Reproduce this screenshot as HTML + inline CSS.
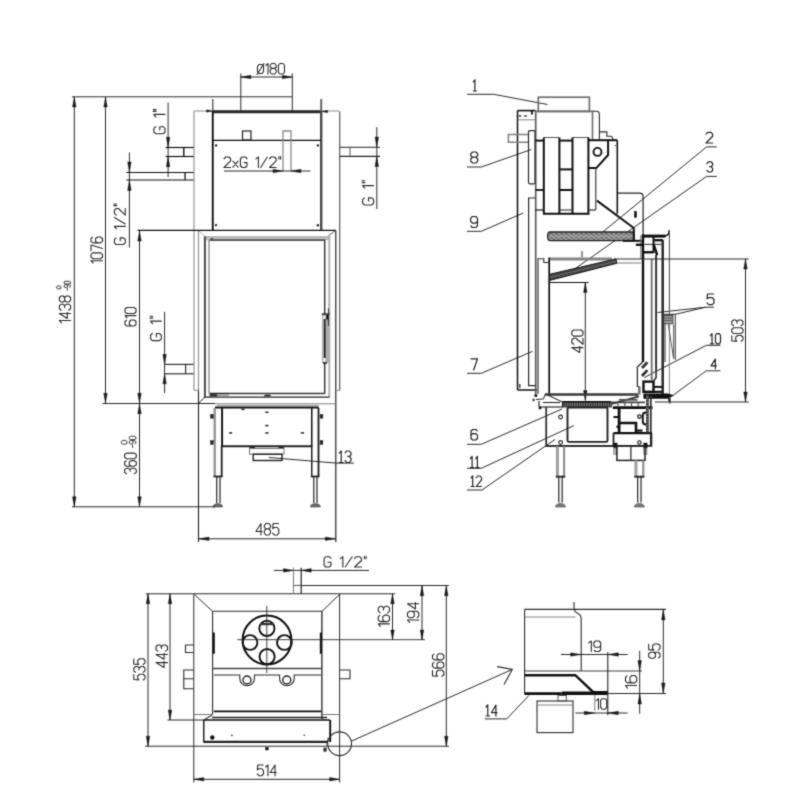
<!DOCTYPE html>
<html><head><meta charset="utf-8"><title>Technical drawing</title>
<style>
html,body{margin:0;padding:0;background:#fff;}
body{width:800px;height:800px;overflow:hidden;font-family:"Liberation Sans",sans-serif;}
svg{display:block}
</style></head><body>
<svg width="800" height="800" viewBox="0 0 800 800" fill="none" stroke-linecap="butt">
<defs><filter id="soft" color-interpolation-filters="sRGB" x="0" y="0" width="800" height="800" filterUnits="userSpaceOnUse"><feConvolveMatrix order="3" kernelMatrix="1 4 1 4 20 4 1 4 1" edgeMode="duplicate" preserveAlpha="true"/></filter></defs>
<rect x="0" y="0" width="800" height="800" fill="#ffffff" stroke="none"/>
<g filter="url(#soft)">
<rect x="-10" y="-10" width="820" height="820" fill="#ffffff" stroke="none"/>
<path d="M72 96.8L292 96.8" stroke="#2a2a2a" stroke-width="1"/>
<path d="M74.3 97L74.3 507" stroke="#2a2a2a" stroke-width="1"/>
<path d="M74.3 97L76.1 107L72.5 107Z" fill="#1a1a1a" stroke="#1a1a1a" stroke-width="0.4"/>
<path d="M74.3 506.8L72.5 496.8L76.1 496.8Z" fill="#1a1a1a" stroke="#1a1a1a" stroke-width="0.4"/>
<path d="M61.45 322.8L59.4 320.53L70.6 320.53M70.6 313.56L59.4 313.56L67.24 318.41L67.24 312.35M61.27 310.23L59.4 308.72L59.4 305.69L61.27 304.18L63.13 304.18L64.63 305.69L64.63 307.51M64.63 305.69L66.49 304.18L68.73 304.18L70.6 305.69L70.6 308.72L68.73 310.23M64.63 300.54L63.13 302.06L61.27 302.06L59.4 300.54L59.4 297.51L61.27 296L63.13 296L64.63 297.51L64.63 300.54L66.49 302.06L68.73 302.06L70.6 300.54L70.6 297.51L68.73 296L66.49 296L64.63 297.51" stroke="#2a2a2a" stroke-width="1.1" fill="none" stroke-linejoin="round" stroke-linecap="round"/>
<path d="M60.9 288.1L60.18 288.8L57.32 288.8L56.6 288.1L56.6 286.7L57.32 286L60.18 286L60.9 286.7L60.9 288.1" stroke="#2a2a2a" stroke-width="0.9" fill="none" stroke-linejoin="round" stroke-linecap="round"/>
<path d="M67.3 290.3L67.3 288.34M69.72 287.3L70.6 286.78L70.6 285.47L69.5 284.82L65.1 284.82L64 285.47L64 286.78L65.1 287.43L66.86 287.43L67.96 286.78L67.96 285.47L66.86 284.82M70.6 283.26L69.5 283.91L65.1 283.91L64 283.26L64 281.95L65.1 281.3L69.5 281.3L70.6 281.95L70.6 283.26" stroke="#2a2a2a" stroke-width="0.9" fill="none" stroke-linejoin="round" stroke-linecap="round"/>
<path d="M105.5 97L105.5 403.5" stroke="#2a2a2a" stroke-width="1"/>
<path d="M105.5 97L107.3 107L103.7 107Z" fill="#1a1a1a" stroke="#1a1a1a" stroke-width="0.4"/>
<path d="M105.5 403.3L103.7 393.3L107.3 393.3Z" fill="#1a1a1a" stroke="#1a1a1a" stroke-width="0.4"/>
<path d="M93.11 263L91 260.8L102.5 260.8M102.5 257.27L100.58 258.74L92.92 258.74L91 257.27L91 254.33L92.92 252.86L100.58 252.86L102.5 254.33L102.5 257.27M91 250.81L91 244.93L102.5 248.46M92.53 237.29L91 238.47L91 241.41L92.92 242.88L100.58 242.88L102.5 241.41L102.5 238.47L100.58 237L97.52 237L95.6 238.47L95.6 241.41L97.52 242.88" stroke="#2a2a2a" stroke-width="1.1" fill="none" stroke-linejoin="round" stroke-linecap="round"/>
<path d="M240.8 73.5L240.8 111" stroke="#2a2a2a" stroke-width="1"/>
<path d="M292.3 73.5L292.3 111" stroke="#2a2a2a" stroke-width="1"/>
<path d="M240.8 77L292.3 77" stroke="#2a2a2a" stroke-width="1"/>
<path d="M240.8 77L250.8 75.2L250.8 78.8Z" fill="#1a1a1a" stroke="#1a1a1a" stroke-width="0.4"/>
<path d="M292.3 77L282.3 78.8L282.3 75.2Z" fill="#1a1a1a" stroke="#1a1a1a" stroke-width="0.4"/>
<path d="M258.99 73.47L257.46 71.72L257.46 66.3L258.99 64.55L262.04 64.55L263.57 66.3L263.57 71.72L262.04 73.47L258.99 73.47M257 74.53L264.03 63.5M265.71 65.42L268 63.5L268 74M271.67 68.4L270.14 67L270.14 65.25L271.67 63.5L274.72 63.5L276.25 65.25L276.25 67L274.72 68.4L271.67 68.4L270.14 70.15L270.14 72.25L271.67 74L274.72 74L276.25 72.25L276.25 70.15L274.72 68.4M279.92 74L278.39 72.25L278.39 65.25L279.92 63.5L282.97 63.5L284.5 65.25L284.5 72.25L282.97 74L279.92 74" stroke="#2a2a2a" stroke-width="1.1" fill="none" stroke-linejoin="round" stroke-linecap="round"/>
<path d="M168.1 102.5L168.1 177" stroke="#2a2a2a" stroke-width="1"/>
<path d="M168.1 147.2L166.3 137.2L169.9 137.2Z" fill="#1a1a1a" stroke="#1a1a1a" stroke-width="0.4"/>
<path d="M168.1 156.7L169.9 166.7L166.3 166.7Z" fill="#1a1a1a" stroke="#1a1a1a" stroke-width="0.4"/>
<path d="M155.67 126.68L153.8 128.46L153.8 132.02L155.67 133.8L163.13 133.8L165 132.02L165 128.46L163.13 126.68L159.77 126.68L159.77 129.89M155.85 117.07L153.8 114.4L165 114.4M153.24 111.38L156.04 111.38M153.24 109.6L156.04 109.6" stroke="#2a2a2a" stroke-width="1.1" fill="none" stroke-linejoin="round" stroke-linecap="round"/>
<path d="M165.6 147.5L194 147.5" stroke="#111" stroke-width="1.2"/>
<path d="M165.6 156.5L194 156.5" stroke="#111" stroke-width="1.2"/>
<path d="M183.8 147.5L183.8 156.5" stroke="#111" stroke-width="1.4"/>
<path d="M129.4 152.5L129.4 247.5" stroke="#2a2a2a" stroke-width="1"/>
<path d="M129.4 172.5L127.6 162L131.2 162Z" fill="#1a1a1a" stroke="#1a1a1a" stroke-width="0.4"/>
<path d="M129.4 180L131.2 190.5L127.6 190.5Z" fill="#1a1a1a" stroke="#1a1a1a" stroke-width="0.4"/>
<path d="M116.22 237.86L114.4 239.52L114.4 242.84L116.22 244.5L123.48 244.5L125.3 242.84L125.3 239.52L123.48 237.86L120.21 237.86L120.21 240.85M116.4 228.9L114.4 226.41L125.3 226.41M125.3 224.08L114.4 217.44M116.22 215.12L114.4 213.46L114.4 210.14L116.22 208.48L118.4 208.48L125.3 215.12L125.3 208.48M113.86 205.66L116.58 205.66M113.86 204L116.58 204" stroke="#2a2a2a" stroke-width="1.1" fill="none" stroke-linejoin="round" stroke-linecap="round"/>
<path d="M126.3 172.5L194 172.5" stroke="#111" stroke-width="1.2"/>
<path d="M126.3 180L194 180" stroke="#111" stroke-width="1.2"/>
<path d="M185 172.5L185 180" stroke="#111" stroke-width="1.3"/>
<path d="M376.8 127.2L376.8 209" stroke="#2a2a2a" stroke-width="1"/>
<path d="M376.8 147.1L375 137.1L378.6 137.1Z" fill="#1a1a1a" stroke="#1a1a1a" stroke-width="0.4"/>
<path d="M376.8 156.5L378.6 166.5L375 166.5Z" fill="#1a1a1a" stroke="#1a1a1a" stroke-width="0.4"/>
<path d="M339.5 147.2L380 147.2" stroke="#222" stroke-width="1.1" fill="none"/>
<path d="M339.5 156.4L380 156.4" stroke="#222" stroke-width="1.1"/>
<path d="M350 147.2L350 156.4" stroke="#555" stroke-width="1"/>
<path d="M364.43 197.88L362.6 199.66L362.6 203.22L364.43 205L371.77 205L373.6 203.22L373.6 199.66L371.77 197.88L368.47 197.88L368.47 201.09M364.62 188.27L362.6 185.6L373.6 185.6M362.05 182.58L364.8 182.58M362.05 180.8L364.8 180.8" stroke="#2a2a2a" stroke-width="1.1" fill="none" stroke-linejoin="round" stroke-linecap="round"/>
<path d="M164.6 311.9L164.6 393" stroke="#2a2a2a" stroke-width="1"/>
<path d="M164.6 364.4L162.8 354.4L166.4 354.4Z" fill="#1a1a1a" stroke="#1a1a1a" stroke-width="0.4"/>
<path d="M164.6 373.8L166.4 383.8L162.8 383.8Z" fill="#1a1a1a" stroke="#1a1a1a" stroke-width="0.4"/>
<path d="M152.38 333.45L150.6 335.24L150.6 338.81L152.38 340.6L159.52 340.6L161.3 338.81L161.3 335.24L159.52 333.45L156.31 333.45L156.31 336.67M152.56 323.8L150.6 321.12L161.3 321.12M150.06 318.09L152.74 318.09M150.06 316.3L152.74 316.3" stroke="#2a2a2a" stroke-width="1.1" fill="none" stroke-linejoin="round" stroke-linecap="round"/>
<path d="M164.6 364.4L194 364.4" stroke="#333" stroke-width="1.2"/>
<path d="M164.6 373.8L194 373.8" stroke="#333" stroke-width="1.2"/>
<path d="M185.6 364.4L185.6 373.8" stroke="#333" stroke-width="1.2"/>
<path d="M194 111L339.5 111" stroke="#8a8a8a" stroke-width="1"/>
<path d="M194 111L194 390.3" stroke="#8a8a8a" stroke-width="1.1"/>
<path d="M339.7 111.5L339.7 390.4" stroke="#5a5a5a" stroke-width="1.2"/>
<path d="M212.5 111.7L321.6 111.7" stroke="#2a2a2a" stroke-width="3"/>
<path d="M212.75 99L212.75 111" stroke="#666" stroke-width="1.5"/>
<path d="M321.2 99L321.2 111" stroke="#666" stroke-width="2"/>
<path d="M212.75 111L212.75 231" stroke="#111" stroke-width="1.9"/>
<path d="M321.2 111L321.2 231" stroke="#4a4a4a" stroke-width="2.4"/>
<path d="M212.5 111L206.5 112.2L206.5 109.8Z" fill="#1a1a1a" stroke="#1a1a1a" stroke-width="0.4"/>
<path d="M321.6 111.5L327.6 110.3L327.6 112.7Z" fill="#1a1a1a" stroke="#1a1a1a" stroke-width="0.4"/>
<path d="M212.5 140.3L321 140.3" stroke="#111" stroke-width="1.2"/>
<rect x="242.5" y="131" width="8.5" height="9" rx="0" stroke="#222" stroke-width="1.2" fill="none"/>
<path d="M283 171L283 131L291 131L291 171" stroke="#8a8a8a" stroke-width="1.3" fill="none"/>
<circle cx="216.1" cy="145.4" r="1.2" fill="#222" stroke="none"/>
<circle cx="317.9" cy="145.4" r="1.2" fill="#222" stroke="none"/>
<circle cx="216" cy="225.1" r="1.2" fill="#222" stroke="none"/>
<circle cx="317.9" cy="225.2" r="1.2" fill="#222" stroke="none"/>
<path d="M224 158.75L225.65 157L228.94 157L230.58 158.75L230.58 160.85L224 167.5L230.58 167.5M232.88 167.15L238.15 161.2M232.88 161.2L238.15 167.15M247.03 158.75L245.39 157L242.1 157L240.45 158.75L240.45 165.75L242.1 167.5L245.39 167.5L247.03 165.75L247.03 162.6L244.07 162.6M255.92 158.93L258.39 157L258.39 167.5M260.69 167.5L267.27 157M269.58 158.75L271.22 157L274.51 157L276.16 158.75L276.16 160.85L269.58 167.5L276.16 167.5M278.95 156.47L278.95 159.1M280.6 156.47L280.6 159.1" stroke="#2a2a2a" stroke-width="1.1" fill="none" stroke-linejoin="round" stroke-linecap="round"/>
<path d="M224 171L310.5 171" stroke="#2a2a2a" stroke-width="1"/>
<path d="M283 171L273 172.8L273 169.2Z" fill="#1a1a1a" stroke="#1a1a1a" stroke-width="0.4"/>
<path d="M291 171L301 169.2L301 172.8Z" fill="#1a1a1a" stroke="#1a1a1a" stroke-width="0.4"/>
<path d="M137.5 230.4L335.8 230.4" stroke="#111" stroke-width="1.3"/>
<path d="M139.5 231L139.5 506.8" stroke="#2a2a2a" stroke-width="1"/>
<path d="M139.5 231L141.3 241L137.7 241Z" fill="#1a1a1a" stroke="#1a1a1a" stroke-width="0.4"/>
<path d="M139.5 403.3L137.7 393.3L141.3 393.3Z" fill="#1a1a1a" stroke="#1a1a1a" stroke-width="0.4"/>
<path d="M139.5 403.7L141.3 413.7L137.7 413.7Z" fill="#1a1a1a" stroke="#1a1a1a" stroke-width="0.4"/>
<path d="M139.5 506.8L137.7 496.8L141.3 496.8Z" fill="#1a1a1a" stroke="#1a1a1a" stroke-width="0.4"/>
<path d="M126.47 320.28L125 321.49L125 324.5L126.83 326L134.17 326L136 324.5L136 321.49L134.17 319.98L131.23 319.98L129.4 321.49L129.4 324.5L131.23 326M127.02 317.88L125 315.62L136 315.62M136 312.01L134.17 313.52L126.83 313.52L125 312.01L125 309L126.83 307.5L134.17 307.5L136 309L136 312.01" stroke="#2a2a2a" stroke-width="1.1" fill="none" stroke-linejoin="round" stroke-linecap="round"/>
<path d="M126.55 473.8L124.6 472.4L124.6 469.6L126.55 468.21L128.5 468.21L130.06 469.6L130.06 471.28M130.06 469.6L132.01 468.21L134.35 468.21L136.3 469.6L136.3 472.4L134.35 473.8M126.16 460.93L124.6 462.05L124.6 464.85L126.55 466.25L134.35 466.25L136.3 464.85L136.3 462.05L134.35 460.65L131.23 460.65L129.28 462.05L129.28 464.85L131.23 466.25M136.3 457.3L134.35 458.69L126.55 458.69L124.6 457.3L124.6 454.5L126.55 453.1L134.35 453.1L136.3 454.5L136.3 457.3" stroke="#2a2a2a" stroke-width="1.1" fill="none" stroke-linejoin="round" stroke-linecap="round"/>
<path d="M126.9 443.18L125.98 444.1L122.32 444.1L121.4 443.18L121.4 441.32L122.32 440.4L125.98 440.4L126.9 441.32L126.9 443.18" stroke="#2a2a2a" stroke-width="0.9" fill="none" stroke-linejoin="round" stroke-linecap="round"/>
<path d="M132.55 447.5L132.55 445.07M135.01 443.77L135.9 443.12L135.9 441.49L134.78 440.68L130.32 440.68L129.2 441.49L129.2 443.12L130.32 443.93L132.1 443.93L133.22 443.12L133.22 441.49L132.1 440.68M135.9 438.73L134.78 439.55L130.32 439.55L129.2 438.73L129.2 437.11L130.32 436.3L134.78 436.3L135.9 437.11L135.9 438.73" stroke="#2a2a2a" stroke-width="0.9" fill="none" stroke-linejoin="round" stroke-linecap="round"/>
<path d="M198.5 231L198.5 390" stroke="#8a8a8a" stroke-width="1.1"/>
<path d="M335.8 230.4L335.8 542" stroke="#222" stroke-width="1.2"/>
<rect x="204.9" y="236" width="125.4" height="4.2" rx="0" stroke="none" stroke-width="0" fill="#b9b9b9"/>
<rect x="328.2" y="236" width="2.2" height="160.8" rx="0" stroke="none" stroke-width="0" fill="#b9b9b9"/>
<path d="M204.9 236.2L204.9 397" stroke="#4a4a4a" stroke-width="2"/>
<path d="M209 240L209 393.4" stroke="#a8a8a8" stroke-width="1.8"/>
<path d="M209.5 240.2L324.7 240.2L324.7 393.4L209.5 393.4" stroke="#222" stroke-width="1.3" fill="none"/>
<path d="M204 397.1L329.6 397.1" stroke="#222" stroke-width="1.3"/>
<path d="M328.3 236L335.4 230.6" stroke="#444" stroke-width="0.9"/>
<path d="M204.9 236.5L199 231" stroke="#999" stroke-width="0.8"/>
<path d="M211.2 238.8L213 238.8" stroke="#333" stroke-width="1.6"/>
<rect x="321.9" y="314" width="7.8" height="49" rx="0" stroke="none" stroke-width="0" fill="#adadad"/>
<path d="M321.9 314L329.7 314" stroke="#111" stroke-width="1.2"/>
<path d="M323 363L327 363" stroke="#111" stroke-width="1.4"/>
<path d="M324.75 316L324.75 362" stroke="#111" stroke-width="1.4"/>
<rect x="323.4" y="316" width="2.2" height="3" rx="0" stroke="none" stroke-width="0" fill="#fff"/>
<rect x="323.4" y="358" width="2.2" height="4" rx="0" stroke="none" stroke-width="0" fill="#fff"/>
<rect x="326.3" y="315" width="2.3" height="4.6" rx="0" stroke="none" stroke-width="0" fill="#111"/>
<path d="M328.4 308.3L328.4 325.8" stroke="#333" stroke-width="1"/>
<path d="M194 390.3L198.5 390.3" stroke="#8a8a8a" stroke-width="1" fill="none"/>
<path d="M339.5 390.4L335.8 390.4" stroke="#8a8a8a" stroke-width="1" fill="none"/>
<path d="M205 397L198.5 403.2" stroke="#2a2a2a" stroke-width="1"/>
<path d="M102.5 403.5L215 403.5" stroke="#2a2a2a" stroke-width="1"/>
<path d="M215 403.8L335.8 403.8" stroke="#808080" stroke-width="1"/>
<path d="M209.5 395.3L217.5 395.3" stroke="#222" stroke-width="2.2"/>
<path d="M217.5 395.3L229 395.3" stroke="#999" stroke-width="2"/>
<path d="M264.4 395.3L270.6 395.3" stroke="#222" stroke-width="2.2"/>
<path d="M229 394.3L324 394.3" stroke="#bbb" stroke-width="0.9"/>
<path d="M217 405.4L318.5 405.4" stroke="#9a9a9a" stroke-width="1"/>
<path d="M215 407.4L318.8 407.4" stroke="#111" stroke-width="2"/>
<path d="M222.1 407.4L222.1 446.2" stroke="#111" stroke-width="1.9"/>
<path d="M311.75 407.4L311.75 446.2" stroke="#111" stroke-width="1.5"/>
<path d="M221.2 446.2L312.4 446.2" stroke="#222" stroke-width="2"/>
<path d="M214.7 408L214.7 476.5" stroke="#8c8c8c" stroke-width="2.2"/>
<path d="M221.7 446L221.7 476.5" stroke="#222" stroke-width="1.8"/>
<path d="M213.6 476.5L222.6 476.5" stroke="#222" stroke-width="1.8"/>
<path d="M216.7 477L216.7 503" stroke="#333" stroke-width="1.3"/>
<path d="M220 477L220 503" stroke="#333" stroke-width="1.3"/>
<path d="M213 507L213.6 505Q217.8 501.8 222 505L222.6 507Z" stroke="#444" stroke-width="0.6" fill="#6a6a6a"/>
<path d="M311.75 446L311.75 476.5" stroke="#222" stroke-width="1.5"/>
<path d="M318.5 408L318.5 476.5" stroke="#222" stroke-width="1.9"/>
<path d="M310.8 476.5L319.4 476.5" stroke="#222" stroke-width="1.8"/>
<path d="M313.8 477L313.8 503" stroke="#333" stroke-width="1.3"/>
<path d="M317 477L317 503" stroke="#333" stroke-width="1.3"/>
<path d="M310.4 507L311 505Q315.4 501.8 319.8 505L320.4 507Z" stroke="#444" stroke-width="0.6" fill="#6a6a6a"/>
<rect x="210.5" y="414.3" width="2.8" height="4" rx="0" stroke="#222" stroke-width="0.4" fill="#222"/>
<rect x="210.5" y="440.5" width="2.8" height="4" rx="0" stroke="#222" stroke-width="0.4" fill="#222"/>
<rect x="320.1" y="414.3" width="2.8" height="4" rx="0" stroke="#222" stroke-width="0.4" fill="#222"/>
<rect x="320.1" y="440.5" width="2.8" height="4" rx="0" stroke="#222" stroke-width="0.4" fill="#222"/>
<path d="M265.3 412.3L268.5 412.3" stroke="#222" stroke-width="1.5"/>
<path d="M265.3 425.6L268.5 425.6" stroke="#222" stroke-width="1.5"/>
<path d="M265.3 432.9L268.5 432.9" stroke="#222" stroke-width="1.5"/>
<path d="M229 432.9L232.2 432.9" stroke="#222" stroke-width="1.5"/>
<path d="M300.9 432.9L304.1 432.9" stroke="#222" stroke-width="1.5"/>
<path d="M241.4 409.3L244.6 409.3" stroke="#222" stroke-width="1.5"/>
<path d="M249.5 447.7L255 447.7" stroke="#222" stroke-width="1.8"/>
<path d="M278.5 447.7L284 447.7" stroke="#222" stroke-width="1.8"/>
<rect x="249.5" y="448.5" width="34.5" height="5.7" rx="0" stroke="#777" stroke-width="1" fill="none"/>
<rect x="253.2" y="454.2" width="28.8" height="6.3" rx="0" stroke="#222" stroke-width="1.4" fill="none"/>
<path d="M268.8 457.5L336 463.1L354 463.1" stroke="#2a2a2a" stroke-width="1" fill="none"/>
<path d="M339.3 453.11L341.2 451L341.2 462.5M339.3 462.5L343.1 462.5M345.15 452.92L346.61 451L349.54 451L351 452.92L351 454.83L349.54 456.37L347.78 456.37M349.54 456.37L351 458.28L351 460.58L349.54 462.5L346.61 462.5L345.15 460.58" stroke="#222" stroke-width="1.2" fill="none" stroke-linejoin="round" stroke-linecap="round"/>
<path d="M72 506.8L215 506.8" stroke="#2a2a2a" stroke-width="1"/>
<path d="M198.5 390.3L198.5 542" stroke="#222" stroke-width="1.1"/>
<path d="M198.5 538.8L335.8 538.8" stroke="#2a2a2a" stroke-width="1"/>
<path d="M198.5 538.8L209 537L209 540.6Z" fill="#1a1a1a" stroke="#1a1a1a" stroke-width="0.4"/>
<path d="M335.8 538.8L325.3 540.6L325.3 537Z" fill="#1a1a1a" stroke="#1a1a1a" stroke-width="0.4"/>
<path d="M260.93 535L260.93 523.5L256 531.55L262.16 531.55M265.86 528.87L264.32 527.33L264.32 525.42L265.86 523.5L268.94 523.5L270.48 525.42L270.48 527.33L268.94 528.87L265.86 528.87L264.32 530.78L264.32 533.08L265.86 535L268.94 535L270.48 533.08L270.48 530.78L268.94 528.87M278.49 523.5L273.1 523.5L272.64 528.67L274.18 527.52L277.26 527.52L278.8 529.44L278.8 533.08L277.26 535L274.18 535L272.64 533.08" stroke="#2a2a2a" stroke-width="1.1" fill="none" stroke-linejoin="round" stroke-linecap="round"/>
<path d="M473.3 81.85L474.9 79.8L474.9 91M473.3 91L476.5 91" stroke="#222" stroke-width="1.2" fill="none" stroke-linejoin="round" stroke-linecap="round"/>
<path d="M467 94.3L493.8 94.3L547.5 104.5" stroke="#2a2a2a" stroke-width="1" fill="none"/>
<path d="M472.52 157.13L470.8 155.67L470.8 153.83L472.52 152L475.98 152L477.7 153.83L477.7 155.67L475.98 157.13L472.52 157.13L470.8 158.97L470.8 161.17L472.52 163L475.98 163L477.7 161.17L477.7 158.97L475.98 157.13" stroke="#222" stroke-width="1.2" fill="none" stroke-linejoin="round" stroke-linecap="round"/>
<path d="M467 167L481.3 167L531.3 149.5" stroke="#2a2a2a" stroke-width="1" fill="none"/>
<path d="M470.95 226.03L472.33 227.5L475.77 227.5L477.5 225.67L477.5 218.33L475.77 216.5L472.33 216.5L470.6 218.33L470.6 221.27L472.33 223.1L475.77 223.1L477.5 221.27" stroke="#222" stroke-width="1.2" fill="none" stroke-linejoin="round" stroke-linecap="round"/>
<path d="M467 231.3L481.3 231.3L523.3 213" stroke="#2a2a2a" stroke-width="1" fill="none"/>
<path d="M471 358.8L477.5 358.8L473.6 370" stroke="#222" stroke-width="1.2" fill="none" stroke-linejoin="round" stroke-linecap="round"/>
<path d="M467 373.3L481.3 373.3L532.5 351.3" stroke="#2a2a2a" stroke-width="1" fill="none"/>
<path d="M477.18 430.9L475.88 429.5L472.62 429.5L471 431.25L471 438.25L472.62 440L475.88 440L477.5 438.25L477.5 435.45L475.88 433.7L472.62 433.7L471 435.45" stroke="#222" stroke-width="1.2" fill="none" stroke-linejoin="round" stroke-linecap="round"/>
<path d="M467 444.3L481.3 444.3L562 409" stroke="#2a2a2a" stroke-width="1" fill="none"/>
<path d="M470.5 458.52L472.12 456.5L472.12 467.5M470.5 467.5L473.75 467.5M475.75 458.52L477.38 456.5L477.38 467.5M475.75 467.5L479 467.5" stroke="#222" stroke-width="1.2" fill="none" stroke-linejoin="round" stroke-linecap="round"/>
<path d="M467 468.3L481.3 468.3L573.8 425.6" stroke="#2a2a2a" stroke-width="1" fill="none"/>
<path d="M471 477.93L472.71 476L472.71 486.5M471 486.5L474.41 486.5M476.25 477.75L477.56 476L480.19 476L481.5 477.75L481.5 479.85L476.25 486.5L481.5 486.5" stroke="#222" stroke-width="1.2" fill="none" stroke-linejoin="round" stroke-linecap="round"/>
<path d="M467 490L482 490L555 439.4" stroke="#2a2a2a" stroke-width="1" fill="none"/>
<path d="M706 134.08L707.65 132.3L710.95 132.3L712.6 134.08L712.6 136.22L706 143L712.6 143" stroke="#222" stroke-width="1.2" fill="none" stroke-linejoin="round" stroke-linecap="round"/>
<path d="M706.6 146.9L716.8 146.9" stroke="#2a2a2a" stroke-width="1"/>
<path d="M706.6 146.9L601.5 233" stroke="#2a2a2a" stroke-width="1"/>
<path d="M707 163.5L708.4 161.8L711.2 161.8L712.6 163.5L712.6 165.2L711.2 166.56L709.52 166.56M711.2 166.56L712.6 168.26L712.6 170.3L711.2 172L708.4 172L707 170.3" stroke="#222" stroke-width="1.2" fill="none" stroke-linejoin="round" stroke-linecap="round"/>
<path d="M706.6 176.4L716.8 176.4" stroke="#2a2a2a" stroke-width="1"/>
<path d="M706.6 176.4L575 268.7" stroke="#2a2a2a" stroke-width="1"/>
<path d="M713.65 294L707.52 294L707 298.77L708.75 297.71L712.25 297.71L714 299.48L714 302.83L712.25 304.6L708.75 304.6L707 302.83" stroke="#222" stroke-width="1.2" fill="none" stroke-linejoin="round" stroke-linecap="round"/>
<path d="M705.6 307.2L714 307.2" stroke="#2a2a2a" stroke-width="1"/>
<path d="M705.6 307.2L657.5 312.5" stroke="#2a2a2a" stroke-width="1"/>
<path d="M705.6 307.2L675 314.4" stroke="#2a2a2a" stroke-width="1"/>
<path d="M710.4 335.55L712.04 333.7L712.04 343.8M710.4 343.8L713.68 343.8M716.71 343.8L715.45 342.12L715.45 335.38L716.71 333.7L719.24 333.7L720.5 335.38L720.5 342.12L719.24 343.8L716.71 343.8" stroke="#222" stroke-width="1.2" fill="none" stroke-linejoin="round" stroke-linecap="round"/>
<path d="M706.3 345.3L720.5 345.3" stroke="#2a2a2a" stroke-width="1"/>
<path d="M706.3 345.3L644.4 377.5" stroke="#2a2a2a" stroke-width="1"/>
<path d="M715.32 368.7L715.32 359.2L711 365.85L716.4 365.85" stroke="#222" stroke-width="1.2" fill="none" stroke-linejoin="round" stroke-linecap="round"/>
<path d="M706.3 370.8L720.5 370.8" stroke="#2a2a2a" stroke-width="1"/>
<path d="M706.3 370.8L673.5 395" stroke="#2a2a2a" stroke-width="1"/>
<rect x="538.3" y="97.2" width="51.1" height="14.2" rx="0" stroke="#6e6e6e" stroke-width="1.7" fill="none"/>
<path d="M535.6 111.4L592.5 111.4L592.5 139.4" stroke="#6e6e6e" stroke-width="1.6" fill="none"/>
<path d="M592.5 111.25L596.5 111.25Q599.4 111.25 599.4 114.4L599.4 139.4" stroke="#2a2a2a" stroke-width="1.1" fill="none"/>
<path d="M599.4 131.9L606.9 131.9L606.9 136.25L611 136.25" stroke="#2a2a2a" stroke-width="1.1" fill="none"/>
<path d="M611 136.25Q612.8 136.6 613 139.4" stroke="#2a2a2a" stroke-width="1.1" fill="none"/>
<path d="M517.5 110.6L517.5 390" stroke="#111" stroke-width="1.5"/>
<path d="M517.5 110.6L535.6 110.6" stroke="#111" stroke-width="1.6"/>
<path d="M517.5 119.8L535.6 119.8" stroke="#666" stroke-width="0.8"/>
<path d="M518.8 116L521 116" stroke="#111" stroke-width="1.4"/>
<path d="M524.3 116L526.6 116" stroke="#111" stroke-width="1.4"/>
<path d="M531.9 110.8L531.9 114.6" stroke="#111" stroke-width="1.8"/>
<path d="M517.5 390L537 390" stroke="#111" stroke-width="1.5"/>
<path d="M519.8 384L519.8 388" stroke="#111" stroke-width="1.2"/>
<path d="M535.7 111.25L535.7 394" stroke="#5a5a5a" stroke-width="1.7"/>
<path d="M528.5 134.4L508.4 134.4L508.4 142.25L528.5 142.25" stroke="#808080" stroke-width="1.5" fill="none"/>
<rect x="528.5" y="130.6" width="6.5" height="53.2" rx="1.2" stroke="#2a2a2a" stroke-width="1.2" fill="none"/>
<path d="M535.6 198L528.6 198L528.6 385.6L535.6 385.6" stroke="#2a2a2a" stroke-width="1.2" fill="none"/>
<path d="M535.6 140.6L543.8 140.6" stroke="#111" stroke-width="2"/>
<path d="M535.6 190L543.8 190" stroke="#111" stroke-width="1.8"/>
<path d="M535.6 210L543.8 210" stroke="#111" stroke-width="1.2"/>
<path d="M543.8 137.5L559.4 137.5" stroke="#555" stroke-width="1"/>
<path d="M572.5 137.5L588.8 137.5" stroke="#555" stroke-width="1"/>
<path d="M543.8 137.5L543.8 213.8" stroke="#111" stroke-width="2"/>
<path d="M559.4 137.5L559.4 213.8" stroke="#111" stroke-width="2"/>
<path d="M572.5 137.5L572.5 213.8" stroke="#111" stroke-width="2"/>
<path d="M588.4 137.5L588.4 213.8" stroke="#111" stroke-width="2"/>
<path d="M543 213.8L589.4 213.8" stroke="#111" stroke-width="2"/>
<path d="M559.4 140.6L572.5 140.6" stroke="#111" stroke-width="2"/>
<path d="M559.4 169.4L572.5 169.4" stroke="#111" stroke-width="2"/>
<path d="M559.4 190L572.5 190" stroke="#111" stroke-width="2"/>
<path d="M559.4 210L572.5 210" stroke="#444" stroke-width="1.2"/>
<path d="M588.4 140.2L617.3 140.2" stroke="#111" stroke-width="2"/>
<path d="M608.1 140.2L608.1 155L596.3 168.1L588.4 168.1" stroke="#111" stroke-width="2" fill="none"/>
<circle cx="597.5" cy="151.9" r="4" stroke="#111" stroke-width="1.9" fill="none"/>
<path d="M595.8 168.1L595.8 210" stroke="#2a2a2a" stroke-width="1.1"/>
<path d="M588.4 210L595.8 210" stroke="#2a2a2a" stroke-width="1.2"/>
<path d="M617.3 140.2L617.3 213.8" stroke="#111" stroke-width="1.6"/>
<circle cx="615.4" cy="145.6" r="0.7" fill="#2a2a2a" stroke="none"/>
<path d="M596.9 200.6L633.8 228" stroke="#111" stroke-width="2"/>
<path d="M617.3 193.1L639.6 193.1Q643.1 193.1 643.1 196.6L643.1 235" stroke="#222" stroke-width="1.2" fill="none"/>
<rect x="634.4" y="211.3" width="2.1" height="6.2" rx="0" stroke="#111" stroke-width="0.5" fill="#111"/>
<defs><pattern id="hx" width="5" height="4.3" patternUnits="userSpaceOnUse"><rect width="5" height="4.3" fill="#adadad"/><path d="M0 2.1Q1.25 0.3 2.5 2.1T5 2.1" stroke="#555" stroke-width="0.9" fill="none"/><path d="M0 4.3Q1.25 2.6 2.5 4.3T5 4.3M0 0Q1.25 -1.7 2.5 0T5 0" stroke="#777" stroke-width="0.7" fill="none"/></pattern></defs>
<path d="M550 232L633.8 232L633.8 240.6L550 240.6Q547.6 240.6 547.6 236.3Q547.6 232 550 232Z" stroke="#222" stroke-width="1.3" fill="url(#hx)"/>
<path d="M633.8 228L633.8 240.6" stroke="#111" stroke-width="2"/>
<path d="M623 240.8L642 240.8" stroke="#111" stroke-width="2"/>
<path d="M549.5 259L612 259" stroke="#858585" stroke-width="3"/>
<path d="M616.5 263L641 263" stroke="#b5b5b5" stroke-width="1.8"/>
<path d="M538 394L538 258.8L543.8 258.8L543.8 262.5L548.8 262.5" stroke="#2a2a2a" stroke-width="1.1" fill="none"/>
<path d="M549.2 257.5L549.2 394.4" stroke="#111" stroke-width="1.7"/>
<path d="M582 251L582 257.5" stroke="#999" stroke-width="2.2"/>
<path d="M549.6 274.3L616 258.9L616.8 263.3L549.6 280.4Z" stroke="#1a1a1a" stroke-width="1" fill="#444"/>
<path d="M550 277.4L616.3 261.2" stroke="#777" stroke-width="0.8"/>
<path d="M549 282.5L588.6 282.5" stroke="#111" stroke-width="1.2"/>
<path d="M585.3 282.5L585.3 400.5" stroke="#2a2a2a" stroke-width="1"/>
<path d="M585.3 282.5L587.1 292.5L583.5 292.5Z" fill="#1a1a1a" stroke="#1a1a1a" stroke-width="0.4"/>
<path d="M585.3 400.5L583.5 390.5L587.1 390.5Z" fill="#1a1a1a" stroke="#1a1a1a" stroke-width="0.4"/>
<path d="M583 347.64L571.8 347.64L579.64 352.5L579.64 346.42M573.67 344.29L571.8 342.77L571.8 339.73L573.67 338.21L575.91 338.21L583 344.29L583 338.21M583 334.56L581.13 336.08L573.67 336.08L571.8 334.56L571.8 331.52L573.67 330L581.13 330L583 331.52L583 334.56" stroke="#2a2a2a" stroke-width="1.1" fill="none" stroke-linejoin="round" stroke-linecap="round"/>
<path d="M642.6 236.1L665.5 236.1" stroke="#111" stroke-width="3"/>
<path d="M665 236.1Q669.3 235.4 669.3 230" stroke="#111" stroke-width="1.5" fill="none"/>
<path d="M643 234.6L643 362" stroke="#111" stroke-width="2.4"/>
<path d="M640.9 235L640.9 259" stroke="#777" stroke-width="1.3"/>
<path d="M653.5 236L653.5 253" stroke="#111" stroke-width="2"/>
<path d="M651.7 259L651.7 380" stroke="#777" stroke-width="2"/>
<path d="M656.1 255L656.1 371" stroke="#333" stroke-width="2"/>
<path d="M662.7 240.25L662.7 393.8" stroke="#2a2a2a" stroke-width="2.5"/>
<path d="M654.25 240.25L662.9 240.25" stroke="#111" stroke-width="2.4"/>
<path d="M643 252.25L653.5 252.25" stroke="#111" stroke-width="2.4"/>
<path d="M644.5 244.4L662.5 244.4" stroke="#555" stroke-width="1.3"/>
<path d="M635.9 244.75L643 244.75" stroke="#111" stroke-width="2.4"/>
<path d="M653.5 244L657.25 255.25" stroke="#111" stroke-width="2.4"/>
<path d="M669.4 230L669.4 314" stroke="#555" stroke-width="1.1"/>
<path d="M669.4 314L669.4 395" stroke="#888" stroke-width="1"/>
<path d="M614 259L748.8 259" stroke="#2a2a2a" stroke-width="1"/>
<path d="M655 402L748.8 402" stroke="#2a2a2a" stroke-width="1"/>
<path d="M745.5 259L745.5 402" stroke="#2a2a2a" stroke-width="1"/>
<path d="M745.5 259L747.3 269L743.7 269Z" fill="#1a1a1a" stroke="#1a1a1a" stroke-width="0.4"/>
<path d="M745.5 402L743.7 392L747.3 392Z" fill="#1a1a1a" stroke="#1a1a1a" stroke-width="0.4"/>
<path d="M731.8 335.83L731.8 340.87L736.84 341.3L735.72 339.86L735.72 336.98L737.59 335.54L741.13 335.54L743 336.98L743 339.86L741.13 341.3M743 332.09L741.13 333.53L733.67 333.53L731.8 332.09L731.8 329.21L733.67 327.77L741.13 327.77L743 329.21L743 332.09M733.67 325.76L731.8 324.32L731.8 321.44L733.67 320L735.53 320L737.03 321.44L737.03 323.17M737.03 321.44L738.89 320L741.13 320L743 321.44L743 324.32L741.13 325.76" stroke="#2a2a2a" stroke-width="1.1" fill="none" stroke-linejoin="round" stroke-linecap="round"/>
<path d="M663.8 314.4L675.3 314.4L675.3 360" stroke="#444" stroke-width="1.1" fill="none"/>
<rect x="663.8" y="315.6" width="9.2" height="8.2" rx="0" stroke="#333" stroke-width="0.8" fill="#999"/>
<path d="M663.8 318L673 318" stroke="#444" stroke-width="0.7"/>
<path d="M663.8 320.5L673 320.5" stroke="#444" stroke-width="0.7"/>
<path d="M665 323.8L665 362" stroke="#2a2a2a" stroke-width="1"/>
<path d="M668.3 324.5L673.6 358.5L673.6 324.5" stroke="#444" stroke-width="0.9" fill="none"/>
<path d="M642.6 362L637.4 367L637.4 386.5L639.6 386.5" stroke="#222" stroke-width="1.2" fill="none"/>
<path d="M642 368L647.4 362.2" stroke="#333" stroke-width="2.8"/>
<path d="M642 376L647.4 370.1" stroke="#333" stroke-width="2.8"/>
<rect x="643.5" y="381.6" width="10" height="10.2" rx="0" stroke="#111" stroke-width="2.4" fill="none"/>
<path d="M653.5 386.9L662.5 386.9" stroke="#111" stroke-width="2" fill="none"/>
<path d="M653.5 391.8L662.5 391.8" stroke="#111" stroke-width="2.2"/>
<path d="M656.1 371L656.1 377.5L653.6 381" stroke="#333" stroke-width="1.6" fill="none"/>
<path d="M643.7 393.8L668 393.8L673.6 395.4L668 398.4L643.7 398.4Z" stroke="#111" stroke-width="0.5" fill="#111"/>
<path d="M668.3 398.4Q668.6 401.5 670 403.6L670.4 398.4Z" stroke="#111" stroke-width="0.5" fill="#111"/>
<path d="M545 394.5L638.3 394.5" stroke="#3a3a3a" stroke-width="2.4"/>
<path d="M639.3 386.5L639.3 394.5" stroke="#777" stroke-width="2.6"/>
<path d="M547.5 395L562.5 402L562.5 407" stroke="#2a2a2a" stroke-width="1.1" fill="none"/>
<path d="M543 402.5L560 402.5" stroke="#2a2a2a" stroke-width="1.1" fill="none"/>
<path d="M540 407L562.5 407" stroke="#2a2a2a" stroke-width="1.2"/>
<path d="M545 394.4L543.5 399L536 399.5" stroke="#2a2a2a" stroke-width="1" fill="none"/>
<circle cx="535.8" cy="395.6" r="1.5" fill="#111" stroke="none"/>
<circle cx="533.6" cy="400" r="1.4" fill="#555" stroke="none"/>
<circle cx="540" cy="408" r="1.4" fill="#111" stroke="none"/>
<path d="M539 401L539 407" stroke="#444" stroke-width="1.4"/>
<rect x="562.5" y="402.2" width="48.8" height="4.8" rx="0" stroke="#111" stroke-width="0.8" fill="#777"/>
<path d="M564 402.6L564 406.6" stroke="#111" stroke-width="0.8"/>
<path d="M566.4 402.6L566.4 406.6" stroke="#111" stroke-width="0.8"/>
<path d="M568.8 402.6L568.8 406.6" stroke="#111" stroke-width="0.8"/>
<path d="M571.2 402.6L571.2 406.6" stroke="#111" stroke-width="0.8"/>
<path d="M573.6 402.6L573.6 406.6" stroke="#111" stroke-width="0.8"/>
<path d="M576 402.6L576 406.6" stroke="#111" stroke-width="0.8"/>
<path d="M578.4 402.6L578.4 406.6" stroke="#111" stroke-width="0.8"/>
<path d="M580.8 402.6L580.8 406.6" stroke="#111" stroke-width="0.8"/>
<path d="M583.2 402.6L583.2 406.6" stroke="#111" stroke-width="0.8"/>
<path d="M585.6 402.6L585.6 406.6" stroke="#111" stroke-width="0.8"/>
<path d="M588 402.6L588 406.6" stroke="#111" stroke-width="0.8"/>
<path d="M590.4 402.6L590.4 406.6" stroke="#111" stroke-width="0.8"/>
<path d="M592.8 402.6L592.8 406.6" stroke="#111" stroke-width="0.8"/>
<path d="M595.2 402.6L595.2 406.6" stroke="#111" stroke-width="0.8"/>
<path d="M597.6 402.6L597.6 406.6" stroke="#111" stroke-width="0.8"/>
<path d="M600 402.6L600 406.6" stroke="#111" stroke-width="0.8"/>
<path d="M602.4 402.6L602.4 406.6" stroke="#111" stroke-width="0.8"/>
<path d="M604.8 402.6L604.8 406.6" stroke="#111" stroke-width="0.8"/>
<path d="M607.2 402.6L607.2 406.6" stroke="#111" stroke-width="0.8"/>
<path d="M609.6 402.6L609.6 406.6" stroke="#111" stroke-width="0.8"/>
<path d="M562.5 401.6L611.3 401.6" stroke="#111" stroke-width="1.2"/>
<path d="M612 403.9L639 396.4" stroke="#333" stroke-width="1.8"/>
<path d="M546.2 407L546.2 446L613.5 446" stroke="#333" stroke-width="1.8" fill="none"/>
<rect x="567.5" y="407.5" width="40" height="34.4" rx="1.5" stroke="#222" stroke-width="1.9" fill="none"/>
<circle cx="560.6" cy="417" r="1.9" stroke="#222" stroke-width="1.1" fill="none"/>
<circle cx="560.6" cy="442.5" r="1.9" stroke="#222" stroke-width="1.1" fill="none"/>
<path d="M612.8 407.6L652.5 407.6" stroke="#111" stroke-width="2.8"/>
<path d="M612 402.4L645 402.4" stroke="#444" stroke-width="1.8"/>
<path d="M618 402.4L618 407" stroke="#555" stroke-width="1.2"/>
<path d="M624.8 402.4L624.8 407" stroke="#555" stroke-width="1.2"/>
<path d="M631.5 402.4L631.5 407" stroke="#555" stroke-width="1.2"/>
<path d="M638.2 402.4L638.2 407" stroke="#555" stroke-width="1.2"/>
<path d="M618.8 399.8L637.5 399.8" stroke="#555" stroke-width="1.8"/>
<path d="M619.1 407.6L619.1 433.1" stroke="#111" stroke-width="2.8"/>
<path d="M613.5 417L619 417" stroke="#111" stroke-width="2"/>
<circle cx="617.6" cy="426.8" r="1.3" fill="#111" stroke="none"/>
<path d="M619 423L636 423L636 433" stroke="#111" stroke-width="2.6" fill="none"/>
<path d="M613.5 433.1L652 433.1" stroke="#111" stroke-width="2.4"/>
<path d="M636.5 430.6L642.5 430.6" stroke="#111" stroke-width="2.2"/>
<path d="M646 412.5Q642.8 412.5 642.8 415.5L642.8 421.5Q642.8 424.5 646 424.5" stroke="#111" stroke-width="1.9" fill="none"/>
<circle cx="639.4" cy="416.6" r="1.7" stroke="#111" stroke-width="1.2" fill="none"/>
<path d="M647.4 394.5L647.4 433" stroke="#333" stroke-width="2.8"/>
<path d="M646.2 397L648.6 397" stroke="#aaa" stroke-width="0.8"/>
<path d="M646.2 399.8L648.6 399.8" stroke="#aaa" stroke-width="0.8"/>
<path d="M646.2 402.6L648.6 402.6" stroke="#aaa" stroke-width="0.8"/>
<path d="M646.2 405.4L648.6 405.4" stroke="#aaa" stroke-width="0.8"/>
<path d="M646.2 408.2L648.6 408.2" stroke="#aaa" stroke-width="0.8"/>
<path d="M646.2 411L648.6 411" stroke="#aaa" stroke-width="0.8"/>
<path d="M646.2 413.8L648.6 413.8" stroke="#aaa" stroke-width="0.8"/>
<path d="M646.2 416.6L648.6 416.6" stroke="#aaa" stroke-width="0.8"/>
<path d="M646.2 419.4L648.6 419.4" stroke="#aaa" stroke-width="0.8"/>
<path d="M646.2 422.2L648.6 422.2" stroke="#aaa" stroke-width="0.8"/>
<path d="M646.2 425L648.6 425" stroke="#aaa" stroke-width="0.8"/>
<path d="M646.2 427.8L648.6 427.8" stroke="#aaa" stroke-width="0.8"/>
<path d="M646.2 430.6L648.6 430.6" stroke="#aaa" stroke-width="0.8"/>
<path d="M650.8 396L650.8 446" stroke="#333" stroke-width="1.8"/>
<path d="M651.4 433.1L651.4 445.9L613.5 445.9L613.5 433.1" stroke="#222" stroke-width="1.8" fill="none"/>
<circle cx="639.4" cy="442.5" r="1.7" stroke="#111" stroke-width="1.1" fill="none"/>
<rect x="613.6" y="443" width="3.6" height="5" rx="0" stroke="#111" stroke-width="0.3" fill="#111"/>
<rect x="643.6" y="443" width="3.6" height="5" rx="0" stroke="#111" stroke-width="0.3" fill="#111"/>
<rect x="613.9" y="448" width="3" height="6.2" rx="0" stroke="#777" stroke-width="0.8" fill="#bbb"/>
<rect x="643.9" y="448" width="3" height="6.2" rx="0" stroke="#777" stroke-width="0.8" fill="#bbb"/>
<rect x="616.9" y="445.8" width="28.1" height="14.6" rx="0" stroke="#222" stroke-width="1.5" fill="none"/>
<path d="M630.9 445.8L630.9 460.4" stroke="#333" stroke-width="1.3"/>
<path d="M557.4 446.3L557.4 476.5" stroke="#a0a0a0" stroke-width="3"/>
<path d="M564.1 446.3L564.1 476.5" stroke="#909090" stroke-width="2.2"/>
<path d="M555.8 476.7L565.2 476.7" stroke="#222" stroke-width="1.9"/>
<path d="M558.8 477L558.8 502.6" stroke="#333" stroke-width="1.3"/>
<path d="M562.2 477L562.2 502.6" stroke="#333" stroke-width="1.3"/>
<path d="M555.5 507.1L556.1 505Q560.5 501.6 564.9 505L565.5 507.1Z" stroke="#555" stroke-width="0.6" fill="#777"/>
<path d="M635.9 460.4L635.9 476.5" stroke="#a0a0a0" stroke-width="3"/>
<path d="M643.3 460.4L643.3 476.5" stroke="#909090" stroke-width="2.2"/>
<path d="M634.3 476.7L644.4 476.7" stroke="#222" stroke-width="1.9"/>
<path d="M637.65 477L637.65 502.6" stroke="#333" stroke-width="1.3"/>
<path d="M641.05 477L641.05 502.6" stroke="#333" stroke-width="1.3"/>
<path d="M634.35 507.1L634.95 505Q639.35 501.6 643.75 505L644.35 507.1Z" stroke="#555" stroke-width="0.6" fill="#777"/>
<path d="M146 593.8L193.8 593.8" stroke="#2a2a2a" stroke-width="1"/>
<path d="M145 746.2L449 746.2" stroke="#2a2a2a" stroke-width="1"/>
<path d="M148 593.8L148 746.2" stroke="#2a2a2a" stroke-width="1"/>
<path d="M148 593.8L149.8 603.8L146.2 603.8Z" fill="#1a1a1a" stroke="#1a1a1a" stroke-width="0.4"/>
<path d="M148 746.2L146.2 736.2L149.8 736.2Z" fill="#1a1a1a" stroke="#1a1a1a" stroke-width="0.4"/>
<path d="M133.8 674.56L133.8 679.57L138.84 680L137.72 678.57L137.72 675.7L139.59 674.27L143.13 674.27L145 675.7L145 678.57L143.13 680M135.67 672.26L133.8 670.83L133.8 667.97L135.67 666.54L137.53 666.54L139.03 667.97L139.03 669.69M139.03 667.97L140.89 666.54L143.13 666.54L145 667.97L145 670.83L143.13 672.26M133.8 659.09L133.8 664.1L138.84 664.53L137.72 663.1L137.72 660.23L139.59 658.8L143.13 658.8L145 660.23L145 663.1L143.13 664.53" stroke="#2a2a2a" stroke-width="1.1" fill="none" stroke-linejoin="round" stroke-linecap="round"/>
<path d="M170 593.8L170 720" stroke="#2a2a2a" stroke-width="1"/>
<path d="M170 593.8L171.8 603.8L168.2 603.8Z" fill="#1a1a1a" stroke="#1a1a1a" stroke-width="0.4"/>
<path d="M170 720L168.2 710L171.8 710Z" fill="#1a1a1a" stroke="#1a1a1a" stroke-width="0.4"/>
<path d="M167.5 662.64L156 662.64L164.05 667.5L164.05 661.42M167.5 654.43L156 654.43L164.05 659.29L164.05 653.21M157.92 651.08L156 649.56L156 646.52L157.92 645L159.83 645L161.37 646.52L161.37 648.34M161.37 646.52L163.28 645L165.58 645L167.5 646.52L167.5 649.56L165.58 651.08" stroke="#2a2a2a" stroke-width="1.1" fill="none" stroke-linejoin="round" stroke-linecap="round"/>
<path d="M167.5 720L204 720" stroke="#2a2a2a" stroke-width="1"/>
<path d="M193.8 593.8L340 593.8" stroke="#2a2a2a" stroke-width="1.1"/>
<path d="M193.8 593.8L193.8 782.5" stroke="#2a2a2a" stroke-width="1"/>
<path d="M339.6 593.8L339.6 782.5" stroke="#2a2a2a" stroke-width="1"/>
<path d="M194.5 594.5L212.5 611.3" stroke="#2a2a2a" stroke-width="1"/>
<path d="M339.5 594.5L322 611.3" stroke="#2a2a2a" stroke-width="1"/>
<path d="M212.5 611.3L322 611.3" stroke="#2a2a2a" stroke-width="1.1"/>
<path d="M212.6 611.3L212.6 715" stroke="#2a2a2a" stroke-width="1.1"/>
<path d="M321.9 611.3L321.9 718.8" stroke="#222" stroke-width="1.3"/>
<path d="M213.8 632.5L213.8 653.8" stroke="#111" stroke-width="2"/>
<path d="M320.8 632.5L320.8 653.8" stroke="#111" stroke-width="2"/>
<circle cx="267" cy="640" r="24.4" stroke="#111" stroke-width="2" fill="none"/>
<circle cx="266.9" cy="628.4" r="7.6" stroke="#111" stroke-width="1.9" fill="none"/>
<circle cx="250" cy="642.5" r="7.4" stroke="#111" stroke-width="1.9" fill="none"/>
<circle cx="284.4" cy="642.5" r="7.4" stroke="#111" stroke-width="1.9" fill="none"/>
<circle cx="267.1" cy="656.6" r="7.6" stroke="#111" stroke-width="1.9" fill="none"/>
<path d="M260.2 624.1L273.4 624.1" stroke="#333" stroke-width="2.2"/>
<path d="M266.8 606L266.8 673" stroke="#2a2a2a" stroke-width="0.9"/>
<path d="M237.4 639.7L425 639.7" stroke="#2a2a2a" stroke-width="0.9"/>
<path d="M212.5 668.4L322 668.4" stroke="#444" stroke-width="1.5"/>
<path d="M213.8 675L239.8 675L239.8 678.5A7.3 7.3 0 0 0 254.4 678.5L254.4 675L279.6 675L279.6 678.5A7.3 7.3 0 0 0 294.2 678.5L294.2 675L321 675" stroke="#2a2a2a" stroke-width="1.1" fill="none"/>
<circle cx="247" cy="680" r="4" stroke="#222" stroke-width="1.4" fill="none"/>
<circle cx="286.8" cy="680" r="4" stroke="#222" stroke-width="1.4" fill="none"/>
<path d="M213.8 711.3L321.3 711.3" stroke="#111" stroke-width="1.8"/>
<path d="M211.9 717.5L327 717.5" stroke="#222" stroke-width="1.4"/>
<path d="M203.8 720L330 720" stroke="#111" stroke-width="1.6"/>
<path d="M193.8 714.5L212.75 714.5" stroke="#777" stroke-width="1"/>
<path d="M203.8 720L211.9 715.2" stroke="#333" stroke-width="1.2"/>
<path d="M322 714.5L339.6 714.5" stroke="#777" stroke-width="1"/>
<path d="M322 718.8L324 720" stroke="#333" stroke-width="1.2"/>
<path d="M193.8 645L185.5 645L185.5 652.5L193.8 652.5" stroke="#2a2a2a" stroke-width="1.1" fill="none"/>
<path d="M193.8 670L183.8 670L183.8 688.8L193.8 688.8" stroke="#2a2a2a" stroke-width="1.1" fill="none"/>
<path d="M183.8 678.8L193.8 678.8" stroke="#2a2a2a" stroke-width="1"/>
<path d="M340 670L350 670L350 678.8L340 678.8" stroke="#2a2a2a" stroke-width="1.1" fill="none"/>
<path d="M203.75 720L203.75 742.5" stroke="#222" stroke-width="1.5"/>
<path d="M330.2 720L330.2 742" stroke="#111" stroke-width="1.9"/>
<path d="M328 737.5L325.8 749" stroke="#777" stroke-width="0.9"/>
<path d="M203.8 741.9L328 741.9" stroke="#222" stroke-width="2.3"/>
<circle cx="212.3" cy="737.5" r="2.2" fill="#111" stroke="none"/>
<circle cx="231.9" cy="735.4" r="0.8" fill="#2a2a2a" stroke="none"/>
<circle cx="304.3" cy="735.2" r="0.8" fill="#2a2a2a" stroke="none"/>
<rect x="265.6" y="747.3" width="2.7" height="2.7" rx="0" stroke="#111" stroke-width="0.4" fill="#111"/>
<rect x="323.8" y="748" width="2.6" height="3.5" rx="0" stroke="#333" stroke-width="0.4" fill="#333"/>
<path d="M193.8 779.3L340 779.3" stroke="#2a2a2a" stroke-width="1"/>
<path d="M193.8 779.3L203.8 777.5L203.8 781.1Z" fill="#1a1a1a" stroke="#1a1a1a" stroke-width="0.4"/>
<path d="M339.6 779.3L329.6 781.1L329.6 777.5Z" fill="#1a1a1a" stroke="#1a1a1a" stroke-width="0.4"/>
<path d="M263.17 765L257.76 765L257.3 769.82L258.84 768.75L261.93 768.75L263.48 770.53L263.48 773.92L261.93 775.7L258.84 775.7L257.3 773.92M265.64 766.96L267.96 765L267.96 775.7M275.06 775.7L275.06 765L270.12 772.49L276.3 772.49" stroke="#2a2a2a" stroke-width="1.1" fill="none" stroke-linejoin="round" stroke-linecap="round"/>
<path d="M330.99 558.42L329.26 556.7L325.82 556.7L324.1 558.42L324.1 565.28L325.82 567L329.26 567L330.99 565.28L330.99 562.19L327.89 562.19M340.28 558.59L342.86 556.7L342.86 567M345.27 567L352.16 556.7M354.57 558.42L356.29 556.7L359.73 556.7L361.45 558.42L361.45 560.48L354.57 567L361.45 567M364.38 556.19L364.38 558.76M366.1 556.19L366.1 558.76" stroke="#2a2a2a" stroke-width="1.1" fill="none" stroke-linejoin="round" stroke-linecap="round"/>
<path d="M274 570.4L369 570.4" stroke="#2a2a2a" stroke-width="1"/>
<path d="M293.5 570.4L283.5 572.2L283.5 568.6Z" fill="#1a1a1a" stroke="#1a1a1a" stroke-width="0.4"/>
<path d="M301.2 570.4L311.2 568.6L311.2 572.2Z" fill="#1a1a1a" stroke="#1a1a1a" stroke-width="0.4"/>
<path d="M293.5 567.7L293.5 593.8" stroke="#777" stroke-width="1"/>
<path d="M301.2 567.7L301.2 593.8" stroke="#222" stroke-width="1.2"/>
<path d="M293.5 585.4L301.3 585.4" stroke="#555" stroke-width="1"/>
<path d="M301.3 585.5L448.8 585.5" stroke="#2a2a2a" stroke-width="1"/>
<path d="M340 593.8L395 593.8" stroke="#2a2a2a" stroke-width="1"/>
<path d="M392.5 593.8L392.5 640" stroke="#2a2a2a" stroke-width="1"/>
<path d="M392.5 593.8L394.3 603.8L390.7 603.8Z" fill="#1a1a1a" stroke="#1a1a1a" stroke-width="0.4"/>
<path d="M392.5 640L390.7 630L394.3 630Z" fill="#1a1a1a" stroke="#1a1a1a" stroke-width="0.4"/>
<path d="M380.35 626.3L378.3 623.86L389.5 623.86M379.79 615.41L378.3 616.71L378.3 619.96L380.17 621.58L387.63 621.58L389.5 619.96L389.5 616.71L387.63 615.08L384.65 615.08L382.78 616.71L382.78 619.96L384.65 621.58M380.17 612.8L378.3 611.18L378.3 607.93L380.17 606.3L382.03 606.3L383.53 607.93L383.53 609.88M383.53 607.93L385.39 606.3L387.63 606.3L389.5 607.93L389.5 611.18L387.63 612.8" stroke="#2a2a2a" stroke-width="1.1" fill="none" stroke-linejoin="round" stroke-linecap="round"/>
<path d="M422 585.8L422 640" stroke="#2a2a2a" stroke-width="1"/>
<path d="M422 585.8L423.8 595.8L420.2 595.8Z" fill="#1a1a1a" stroke="#1a1a1a" stroke-width="0.4"/>
<path d="M422 640L420.2 630L423.8 630Z" fill="#1a1a1a" stroke="#1a1a1a" stroke-width="0.4"/>
<path d="M409.57 622.5L407.5 620.06L418.8 620.06M417.29 617.46L418.8 616.16L418.8 612.91L416.92 611.28L409.38 611.28L407.5 612.91L407.5 616.16L409.38 617.78L412.4 617.78L414.28 616.16L414.28 612.91L412.4 611.28M418.8 603.8L407.5 603.8L415.41 609L415.41 602.5" stroke="#2a2a2a" stroke-width="1.1" fill="none" stroke-linejoin="round" stroke-linecap="round"/>
<path d="M446.3 585.8L446.3 746.2" stroke="#2a2a2a" stroke-width="1"/>
<path d="M446.3 585.8L448.1 595.8L444.5 595.8Z" fill="#1a1a1a" stroke="#1a1a1a" stroke-width="0.4"/>
<path d="M446.3 746.2L444.5 736.2L448.1 736.2Z" fill="#1a1a1a" stroke="#1a1a1a" stroke-width="0.4"/>
<path d="M432.5 670.52L432.5 675.84L437.58 676.3L436.45 674.78L436.45 671.74L438.34 670.22L441.92 670.22L443.8 671.74L443.8 674.78L441.92 676.3M434.01 662.31L432.5 663.53L432.5 666.57L434.38 668.09L441.92 668.09L443.8 666.57L443.8 663.53L441.92 662.01L438.9 662.01L437.02 663.53L437.02 666.57L438.9 668.09M434.01 654.1L432.5 655.32L432.5 658.36L434.38 659.88L441.92 659.88L443.8 658.36L443.8 655.32L441.92 653.8L438.9 653.8L437.02 655.32L437.02 658.36L438.9 659.88" stroke="#2a2a2a" stroke-width="1.1" fill="none" stroke-linejoin="round" stroke-linecap="round"/>
<circle cx="339.6" cy="743.8" r="11.9" stroke="#2a2a2a" stroke-width="1.1" fill="none"/>
<path d="M351 741.3L512.3 669.4" stroke="#2a2a2a" stroke-width="1"/>
<path d="M497 666.6L512.3 669.4L504 684.5" stroke="#2a2a2a" stroke-width="1.1" fill="none"/>
<path d="M524.6 609.4L666 609.4" stroke="#2a2a2a" stroke-width="1.1"/>
<path d="M524.6 609.4L524.6 694" stroke="#2a2a2a" stroke-width="1.1"/>
<path d="M524.6 617L575.5 617" stroke="#777" stroke-width="0.9"/>
<path d="M574 602L574 608Q574.5 612 578 613.5Q581.2 615 581.2 619L581.2 671" stroke="#2a2a2a" stroke-width="1.1" fill="none"/>
<path d="M524.6 671L642 671" stroke="#2a2a2a" stroke-width="0.9"/>
<path d="M524.6 675.2L575.3 675.2L593.3 692.2L607.8 692.2" stroke="#111" stroke-width="2.4" fill="none"/>
<path d="M524.6 693.6L561.8 693.6" stroke="#111" stroke-width="2.8"/>
<path d="M561.8 693.2L607.8 693.2" stroke="#111" stroke-width="3.4"/>
<path d="M561 654.5L627.7 654.5" stroke="#2a2a2a" stroke-width="1"/>
<path d="M581.2 654.5L570.7 656.3L570.7 652.7Z" fill="#1a1a1a" stroke="#1a1a1a" stroke-width="0.4"/>
<path d="M607.8 654.5L618.3 652.7L618.3 656.3Z" fill="#1a1a1a" stroke="#1a1a1a" stroke-width="0.4"/>
<path d="M588.7 642.92L591.31 641L591.31 651.5M594.09 650.1L595.48 651.5L598.96 651.5L600.7 649.75L600.7 642.75L598.96 641L595.48 641L593.74 642.75L593.74 645.55L595.48 647.3L598.96 647.3L600.7 645.55" stroke="#2a2a2a" stroke-width="1.1" fill="none" stroke-linejoin="round" stroke-linecap="round"/>
<path d="M607.8 652.3L607.8 715.2" stroke="#222" stroke-width="1.1"/>
<path d="M639.7 650.8L639.7 713.7" stroke="#2a2a2a" stroke-width="1"/>
<path d="M639.7 671L637.9 660.5L641.5 660.5Z" fill="#1a1a1a" stroke="#1a1a1a" stroke-width="0.4"/>
<path d="M639.7 693.5L641.5 704L637.9 704Z" fill="#1a1a1a" stroke="#1a1a1a" stroke-width="0.4"/>
<path d="M627.55 688.2L625.5 685.44L636.7 685.44M626.99 675.87L625.5 677.34L625.5 681.02L627.37 682.86L634.83 682.86L636.7 681.02L636.7 677.34L634.83 675.5L631.85 675.5L629.98 677.34L629.98 681.02L631.85 682.86" stroke="#2a2a2a" stroke-width="1.1" fill="none" stroke-linejoin="round" stroke-linecap="round"/>
<path d="M607.8 693.5L666 693.5" stroke="#2a2a2a" stroke-width="1"/>
<path d="M663.3 609.4L663.3 693.5" stroke="#2a2a2a" stroke-width="1"/>
<path d="M663.3 609.4L665.1 619.9L661.5 619.9Z" fill="#1a1a1a" stroke="#1a1a1a" stroke-width="0.4"/>
<path d="M663.3 693.5L661.5 683L665.1 683Z" fill="#1a1a1a" stroke="#1a1a1a" stroke-width="0.4"/>
<path d="M658.49 658L660 656.78L660 653.74L658.12 652.21L650.58 652.21L648.7 653.74L648.7 656.78L650.58 658.3L653.6 658.3L655.48 656.78L655.48 653.74L653.6 652.21M648.7 644.3L648.7 649.63L653.79 650.09L652.65 648.56L652.65 645.52L654.54 644L658.12 644L660 645.52L660 648.56L658.12 650.09" stroke="#2a2a2a" stroke-width="1.1" fill="none" stroke-linejoin="round" stroke-linecap="round"/>
<path d="M575.3 713L627.7 713" stroke="#2a2a2a" stroke-width="1"/>
<path d="M594.8 713L584.3 714.8L584.3 711.2Z" fill="#1a1a1a" stroke="#1a1a1a" stroke-width="0.4"/>
<path d="M607.8 713L618.3 711.2L618.3 714.8Z" fill="#1a1a1a" stroke="#1a1a1a" stroke-width="0.4"/>
<path d="M594.8 695L594.8 710.7" stroke="#777" stroke-width="1"/>
<path d="M596.2 700.62L598.48 698.7L598.48 709.2M602.13 709.2L600.61 707.45L600.61 700.45L602.13 698.7L605.18 698.7L606.7 700.45L606.7 707.45L605.18 709.2L602.13 709.2" stroke="#2a2a2a" stroke-width="1.1" fill="none" stroke-linejoin="round" stroke-linecap="round"/>
<path d="M486 707.02L487.79 705L487.79 716M486 716L489.57 716M495.9 716L495.9 705L491.5 712.7L497 712.7" stroke="#222" stroke-width="1.2" fill="none" stroke-linejoin="round" stroke-linecap="round"/>
<path d="M484.8 718.9L506.8 718.9L528.8 695.5" stroke="#2a2a2a" stroke-width="1" fill="none"/>
<rect x="537" y="701" width="36" height="31.6" rx="0" stroke="#2a2a2a" stroke-width="1.1" fill="none"/>
<path d="M537 705L573 705" stroke="#777" stroke-width="0.9"/>
<rect x="558" y="695.5" width="8.3" height="5.5" rx="0" stroke="#555" stroke-width="1" fill="none"/>
</g>
</svg>
</body></html>
